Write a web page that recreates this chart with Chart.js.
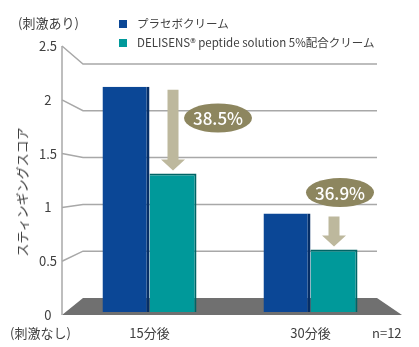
<!DOCTYPE html>
<html lang="ja">
<head>
<meta charset="utf-8">
<script src="https://cdn.jsdelivr.net/npm/chart.js@4.4.0/dist/chart.umd.min.js"></script>
<style>
    body { margin: 0; background: #fff; }
    #wrap {
        position: relative;
        width: 419px;
        height: 347px;
        font-family: "Noto Sans CJK JP", sans-serif;
        color: #404040;
    }
    #wrap canvas { position: absolute; left: 0; top: 0; }
    .txt { position: absolute; white-space: nowrap; line-height: 16px; font-size: 13px; }
    .legend { position: absolute; left: 119px; font-size: 11.5px; line-height: 16px; white-space: nowrap; }
    .legend span.box { display: inline-block; width: 8px; height: 8px; margin-right: 10px; vertical-align: -0px; }
    #yTitle {
        position: absolute;
        left: 22px;
        top: 192px;
        transform: translate(-50%, -50%) rotate(-90deg);
        font-size: 13px;
        line-height: 16px;
        white-space: nowrap;
    }
</style>
</head>
<body>
<div id="wrap">
    <canvas id="chart" width="419" height="347"></canvas>
    <div class="txt" style="left:18px; top:15px;">(刺激あり)</div>
    <div class="txt" style="left:10px; top:325px;">(刺激なし)</div>
    <div class="txt" style="left:372px; top:325px;">n=12</div>
    <div id="yTitle">スティンギングスコア</div>
    <div class="legend" id="leg1" style="top:15px;"></div>
    <div class="legend" id="leg2" style="top:34px;"></div>
</div>
<script>
// Data
const categories = ['15分後', '30分後'];
const seriesNames = ['プラセボクリーム', 'DELISENS® peptide solution 5%配合クリーム'];
const placeboValues = [2.13, 0.93];
const delisensValues = [1.31, 0.59];
const reductionLabels = ['38.5%', '36.9%'];
const yTicks = [0, 0.5, 1, 1.5, 2, 2.5];

// Colours
const colors = {
    placebo: '#0b4796',
    placeboEdge: '#062e66',
    delisens: '#00999a',
    delisensEdge: '#006465',
    floor: '#707070',
    grid: '#a8a8a8',
    arrow: '#bdb89d',
    badge: '#8d865f'
};

const fontFamily = '"Noto Sans CJK JP", sans-serif';

// legend (html)
document.getElementById('leg1').innerHTML =
    `<span class="box" style="background:${colors.placebo}"></span>${seriesNames[0]}`;
document.getElementById('leg2').innerHTML =
    `<span class="box" style="background:${colors.delisens}"></span>${seriesNames[1]}`;

// floor, perspective grid and axis line behind the bars,
// arrows and badges on top
const scenePlugin = {
    id: 'scene',
    beforeDatasetsDraw(chart) {
        const { ctx, chartArea: a, scales } = chart;
        const yF = scales.y;
        const yB = scales.back;
        const xL = a.left - 7, xBL = a.left + 14, xBR = a.right - 14, xR = a.right + 11;

        ctx.save();
        // floor
        ctx.fillStyle = colors.floor;
        ctx.beginPath();
        ctx.moveTo(xL, yF.getPixelForValue(0));
        ctx.lineTo(xR, yF.getPixelForValue(0));
        ctx.lineTo(xBR, yB.getPixelForValue(0));
        ctx.lineTo(xBL, yB.getPixelForValue(0));
        ctx.closePath();
        ctx.fill();

        // grid lines
        ctx.strokeStyle = colors.grid;
        ctx.lineWidth = 1.5;
        yTicks.forEach(v => {
            if (v === 0) return;
            ctx.beginPath();
            ctx.moveTo(xL, yF.getPixelForValue(v));
            ctx.lineTo(xBL, yB.getPixelForValue(v));
            ctx.lineTo(xBR, yB.getPixelForValue(v));
            ctx.stroke();
        });

        // axis line
        ctx.beginPath();
        ctx.moveTo(xL, yF.getPixelForValue(yTicks[yTicks.length - 1]));
        ctx.lineTo(xL, yF.getPixelForValue(0));
        ctx.stroke();
        ctx.restore();
    },
    afterDatasetsDraw(chart) {
        const { ctx } = chart;
        const blue = chart.getDatasetMeta(0).data;
        const teal = chart.getDatasetMeta(1).data;

        ctx.save();
        categories.forEach((c, i) => {
            const x = teal[i].x;
            const top = blue[i].y + 3;
            const tip = teal[i].y - 3;
            const headLen = 11;

            // arrow
            ctx.fillStyle = colors.arrow;
            ctx.beginPath();
            ctx.moveTo(x - 5.5, top);
            ctx.lineTo(x + 5.5, top);
            ctx.lineTo(x + 5.5, tip - headLen);
            ctx.lineTo(x + 12, tip - headLen);
            ctx.lineTo(x, tip);
            ctx.lineTo(x - 12, tip - headLen);
            ctx.lineTo(x - 5.5, tip - headLen);
            ctx.closePath();
            ctx.fill();

            // badge: beside the arrow if there is room, otherwise above
            let bx, by;
            if (teal[i].y - blue[i].y > 60) {
                bx = x + 45;
                by = (blue[i].y + teal[i].y) / 2 - 12;
            } else {
                bx = x + 6;
                by = blue[i].y - 21;
            }
            ctx.fillStyle = colors.badge;
            ctx.beginPath();
            ctx.ellipse(bx, by, 34, 14.5, 0, 0, Math.PI * 2);
            ctx.fill();

            ctx.fillStyle = '#ffffff';
            ctx.font = `500 17px ${fontFamily}`;
            ctx.textAlign = 'center';
            ctx.textBaseline = 'middle';
            ctx.fillText(reductionLabels[i], bx, by + 1);
        });
        ctx.restore();
    }
};

new Chart(document.getElementById('chart'), {
    type: 'bar',
    data: {
        labels: categories,
        datasets: [
            {
                label: seriesNames[0],
                data: placeboValues,
                yAxisID: 'yb',
                backgroundColor: colors.placebo,
                borderColor: colors.placeboEdge,
                borderWidth: { top: 0, right: 3, bottom: 0, left: 0 },
                borderSkipped: false,
                barPercentage: 1,
                categoryPercentage: 0.584
            },
            {
                label: seriesNames[1],
                data: delisensValues,
                yAxisID: 'yb',
                backgroundColor: colors.delisens,
                borderColor: colors.delisensEdge,
                borderWidth: { top: 2, right: 2, bottom: 0, left: 0 },
                borderSkipped: false,
                barPercentage: 1,
                categoryPercentage: 0.584
            }
        ]
    },
    options: {
        responsive: false,
        animation: false,
        devicePixelRatio: 1,
        layout: {
            padding: { top: 46, left: 37, right: 28, bottom: 0 }
        },
        plugins: {
            legend: { display: false },
            tooltip: { enabled: false }
        },
        scales: {
            x: {
                grid: { display: false, drawTicks: false },
                border: { display: false },
                afterFit: s => { s.height = 32; },
                ticks: {
                    color: '#404040',
                    padding: 10,
                    font: { size: 13, family: fontFamily }
                }
            },
            y: {
                min: 0,
                max: 2.5,
                grid: { display: false, drawTicks: false },
                border: { display: false },
                afterFit: s => { s.width = 32; },
                ticks: {
                    stepSize: 0.5,
                    crossAlign: 'center',
                    padding: 12,
                    color: '#404040',
                    font: { size: 13, family: fontFamily },
                    callback: v => String(v)
                }
            },
            // depth plane the bars stand in
            yb: { type: 'linear', axis: 'y', position: 'left', display: false, min: -0.0284, max: 2.514 },
            // back wall of the box
            back: { type: 'linear', axis: 'y', position: 'left', display: false, min: -0.1816, max: 2.692 }
        }
    },
    plugins: [scenePlugin]
});
</script>
</body>
</html>
